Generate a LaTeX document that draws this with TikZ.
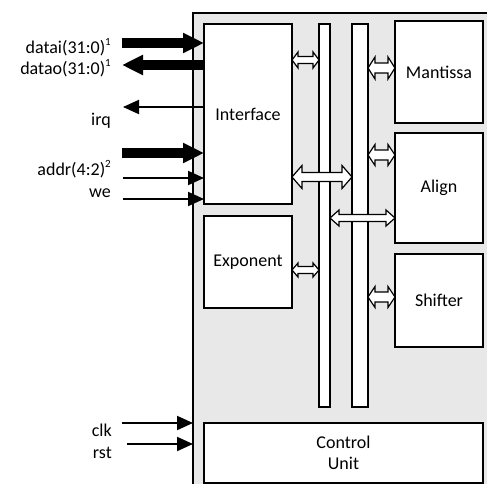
\documentclass[tikz,border=0pt]{standalone}
\usepackage{fontspec}
\setmainfont{Carlito}
\usetikzlibrary{arrows.meta,calc}

\definecolor{chipgray}{RGB}{232,232,232}

% hochgestellte Fussnotenziffer
\newcommand{\hoch}[1]{\raisebox{8pt}{\fontsize{11}{11}\selectfont #1}}

% Doppelpfeil zwischen zwei Ankern auf Hoehe y
% #1,#2 Anker, #3 y, #4 halbe Schaftbreite, #5 halbe Spitzenbreite, #6 Spitzenlaenge
\newcommand{\busarrow}[6]{%
  \path (#1 |- 0,#3) coordinate (ba) (#2 |- 0,#3) coordinate (bb);
  \draw[busarr] (ba) -- ($(ba)+(#6,-#5)$) -- ($(ba)+(#6,-#4)$) -- ($(bb)+(-#6,-#4)$)
    -- ($(bb)+(-#6,-#5)$) -- (bb) -- ($(bb)+(-#6,#5)$) -- ($(bb)+(-#6,#4)$)
    -- ($(ba)+(#6,#4)$) -- ($(ba)+(#6,#5)$) -- cycle;}

\tikzset{
  chipbox/.style={draw, fill=chipgray, line width=2pt, outer sep=0pt, inner sep=0pt, anchor=north west},
  block/.style={draw, fill=white, line width=1.5pt, outer sep=0pt, inner sep=0pt, anchor=north west, align=center},
  bus/.style={draw, fill=white, line width=1.5pt, outer sep=0pt, inner sep=0pt, anchor=north west},
  busarr/.style={draw, fill=white, line width=1.2pt, line join=miter},
  wsig/.style={line width=10pt, -{Triangle[length=21pt,width=19pt]}},
  nsig/.style={line width=2pt, -{Triangle[length=16pt,width=14pt]}},
  lbl/.style={anchor=base east, inner sep=0pt},
}

\begin{document}
\begin{tikzpicture}[x=1pt,y=-1pt,font=\fontsize{18}{21.6}\selectfont]
  \useasboundingbox (0,0) rectangle (487,484);
  \clip (0,0) rectangle (487,484);

  % Gehaeuse
  \node[chipbox, minimum width=320pt, minimum height=490pt] (chip) at (193,13) {};

  % Busse
  \node[bus, minimum width=11pt, minimum height=383pt] (bus1) at (319,24) {};
  \node[bus, minimum width=16pt, minimum height=383pt] (bus2) at (352,24) {};

  % Bloecke
  \node[block, minimum width=88pt, minimum height=180pt] (iface) at (204,24) {Interface};
  \node[block, minimum width=88pt, minimum height=92pt] (expo) at (204,216) {Exponent};
  \node[block, minimum width=88pt, minimum height=102pt] (mant) at (395,21) {Mantissa};
  \node[block, minimum width=88pt, minimum height=110pt] (align) at (395,133) {Align};
  \node[block, minimum width=88pt, minimum height=93pt] (shift) at (395,254) {Shifter};
  \node[block, minimum width=279pt, minimum height=60pt] (ctrl) at (204,423) {Control\\Unit};

  % Busanbindungen
  \busarrow{iface.east}{bus1.west}{60}{3.5}{8}{6}
  \busarrow{bus2.east}{mant.west}{68}{5}{11}{7}
  \busarrow{bus2.east}{align.west}{155}{5}{10.5}{7}
  \busarrow{iface.east}{bus2.west}{177}{4.5}{11.5}{10}
  \busarrow{bus1.east}{align.west}{218}{3.5}{8}{9}
  \busarrow{expo.east}{bus1.west}{270}{3.5}{7}{6}
  \busarrow{bus2.east}{shift.west}{297}{5}{10.5}{7}

  % freie Enden der Signale
  \coordinate (pdatai) at (122,43);
  \coordinate (pdatao) at (122,65);
  \coordinate (pirq) at (123,107);
  \coordinate (paddr) at (122,153);
  \coordinate (paddrb) at (123,178);
  \coordinate (pwe) at (123,199);
  \coordinate (pclk) at (122,423);
  \coordinate (prst) at (127,444);

  % Signale
  \draw[wsig] (pdatai) -- (iface.west |- pdatai);
  \draw[wsig] (iface.west |- pdatao) -- (pdatao);
  \draw[nsig] (iface.west |- pirq) -- (pirq);
  \draw[wsig] (paddr) -- (iface.west |- paddr);
  \draw[nsig] (paddrb) -- (iface.west |- paddrb);
  \draw[nsig] (pwe) -- (iface.west |- pwe);
  \draw[nsig] (pclk) -- (chip.west |- pclk);
  \draw[nsig] (prst) -- (chip.west |- prst);

  % Beschriftungen
  \node[lbl] (ldatai) at (111,54) {datai(31:0)\hoch{1}};
  \node[lbl] (ldatao) at (111,75) {datao(31:0)\hoch{1}};
  \node[lbl] (lirq) at (111,126) {irq};
  \node[lbl] (laddr) at (111,175) {addr(4:2)\hoch{2}};
  \node[lbl] (lwe) at (111,197) {we};
  \node[lbl] (lclk) at (112,436) {clk};
  \node[lbl] (lrst) at (112,458) {rst};
\end{tikzpicture}
\end{document}
